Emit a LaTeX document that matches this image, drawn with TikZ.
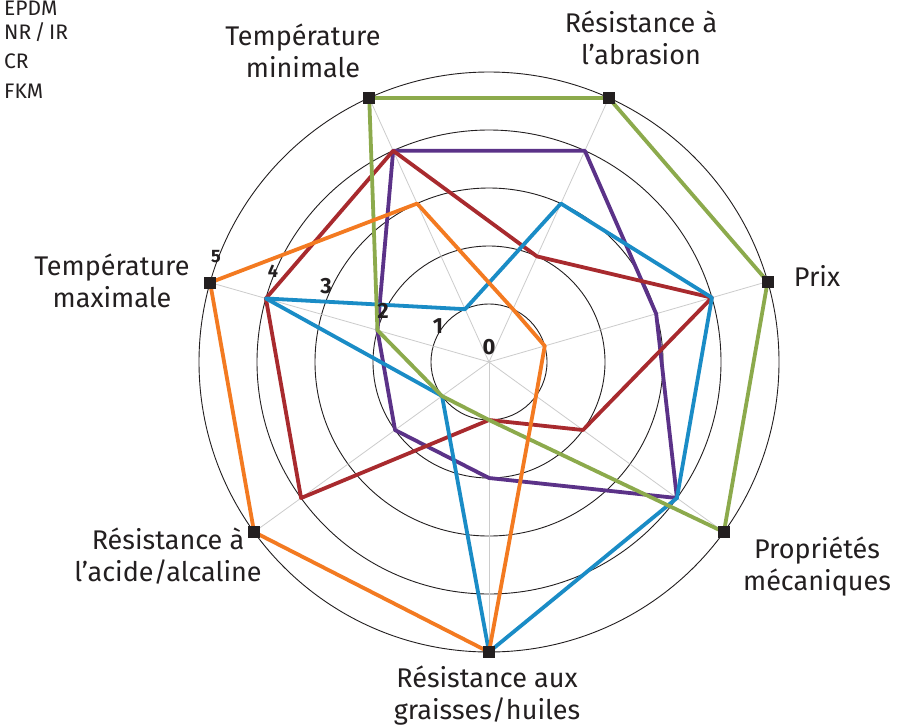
\documentclass[tikz,border=0pt]{standalone}
\usepackage{fontspec}
\setmainfont{Fira Sans}
\definecolor{txt}{HTML}{231F20}
\definecolor{cgreen}{HTML}{8CAA4C}
\definecolor{cpurple}{HTML}{5B3288}
\definecolor{cred}{HTML}{A82A2E}
\definecolor{cblue}{HTML}{1A8CC6}
\definecolor{corange}{HTML}{F37A21}
\def\aG{-90}\def\aM{-35.9}\def\aP{16.1}\def\aA{65.6}\def\aN{114.4}\def\aX{164.1}\def\aC{215.9}
\newcommand\radarline[8]{\draw[series,#1] (\aN:#2*58) -- (\aA:#3*58) -- (\aP:#4*58) -- (\aM:#5*58) -- (\aG:#6*58) -- (\aC:#7*58) -- (\aX:#8*58) -- cycle;}
\begin{document}
\begin{tikzpicture}[x=1pt,y=1pt,
  lbl/.style={font=\fontsize{27}{32}\selectfont, text=txt, align=center, inner sep=0},
  leg/.style={font=\fontsize{21}{24}\selectfont, text=txt, anchor=base west, inner sep=0},
  num/.style={font=\bfseries\fontsize{22}{22}\selectfont, text=txt, inner sep=0},
  nums/.style={font=\bfseries\fontsize{18}{18}\selectfont, text=txt, inner sep=0},
  ring/.style={draw=txt, line width=0.9},
  axisln/.style={draw=black!20, line width=0.8},
  series/.style={line width=3.8, line join=round},
  sq/.style={fill=txt, minimum size=12, inner sep=0}]
\useasboundingbox (0,0) rectangle (912,-726);
\fill[white] (0,0) rectangle (912,-726);
\begin{scope}[shift={(489,-362)}]
  \foreach \r in {1,...,5} \draw[ring] (0,0) circle[radius=\r*58pt];
  \foreach \a in {\aG,\aM,\aP,\aA,\aN,\aX,\aC} \draw[axisln] (0,0) -- (\a:290);
  \radarline{cpurple}{4}{4}{3}{4}{2}{2}{2}
  \radarline{cred}{4}{2}{4}{2}{1}{4}{4}
  \radarline{cblue}{1}{3}{4}{4}{5}{1}{4}
  \radarline{cgreen}{5}{5}{5}{5}{1}{1}{2}
  \radarline{corange}{3}{1}{1}{1}{5}{5}{5}
  \node[sq] (sG) at (\aG:290) {};
  \node[sq] (sM) at (\aM:290) {};
  \node[sq] (sP) at (\aP:290) {};
  \node[sq] (sA) at (\aA:290) {};
  \node[sq] (sN) at (\aN:290) {};
  \node[sq] (sX) at (\aX:290) {};
  \node[sq] (sC) at (\aC:290) {};
\end{scope}
\node[num] (n0) at (489,-347) {0};
\node[num] (n1) at (438,-326) {1};
\node[num] (n2) at (383,-311) {2};
\node[num] (n3) at (326,-286) {3};
\node[nums] (n4) at (273,-271) {4};
\node[nums] (n5) at (216,-257) {5};
\node[lbl] (Ln) at (303,-51) {Température\\minimale};
\node[lbl] (La) at (641,-38) {Résistance à\\l’abrasion};
\node[lbl] (Lp) at (817,-276) {Prix};
\node[lbl] (Lx) at (112,-281) {Température\\maximale};
\node[lbl] (Lm) at (817,-567) {Propriétés\\mécaniques};
\node[lbl] (Lc) at (168,-556) {Résistance à\\l’acide/alcaline};
\node[lbl] (Lg) at (487,-696) {Résistance aux\\graisses/huiles};
\node[leg] (e1) at (4,-15) {EPDM};
\node[leg] (e2) at (4,-39) {NR\,/\,IR};
\node[leg] (e3) at (4,-68) {CR};
\node[leg] (e4) at (4,-98) {FKM};
\end{tikzpicture}
\end{document}
